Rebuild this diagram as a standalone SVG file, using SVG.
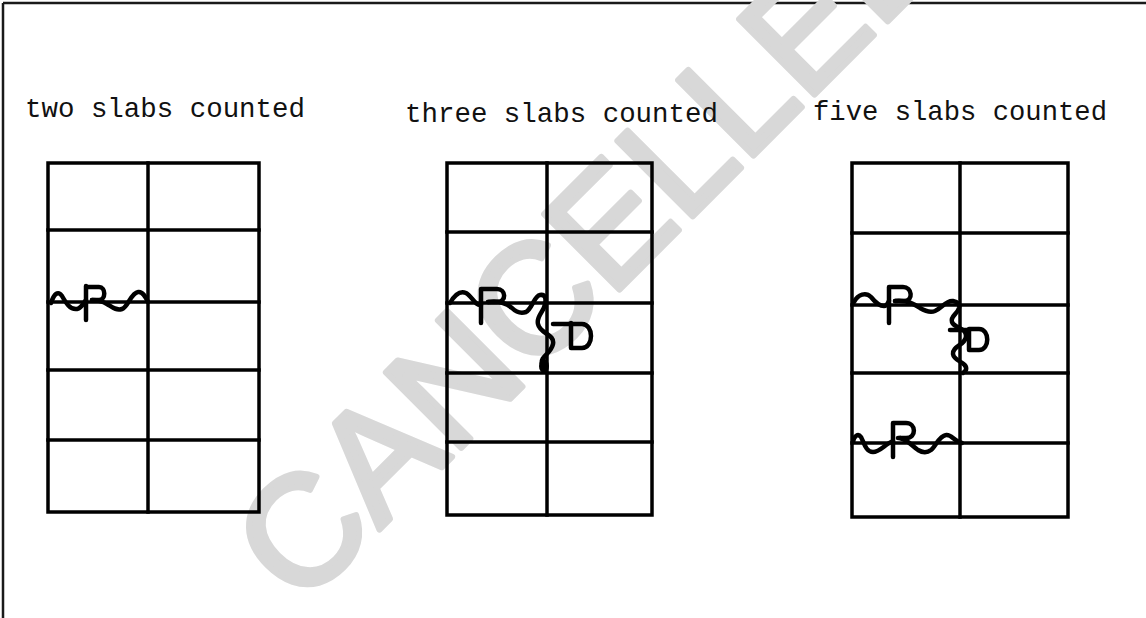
<svg xmlns="http://www.w3.org/2000/svg" width="1146" height="618" viewBox="0 0 1146 618">
<style>
.bg{fill:#ffffff}
.frame{stroke:#1a1a1a;stroke-width:2.5;fill:none}
.wm{font-family:"Liberation Sans",Arial,sans-serif;font-size:155px;fill:#d8d8d8;stroke:#d8d8d8;stroke-width:6;stroke-linejoin:round}
.lbl{font-family:"Liberation Mono","Courier New",monospace;font-size:27.5px;fill:#111111}
.grid{stroke:#000000;stroke-width:3.5;fill:none;stroke-linecap:square}
.wave{stroke:#000000;stroke-width:4.5;fill:none;stroke-linecap:round;stroke-linejoin:round}
</style>
<rect class="bg" x="0" y="0" width="1146" height="618"/>
<g id="frame">
<line class="frame" x1="3" y1="3" x2="1146" y2="3"/>
<line class="frame" x1="3" y1="3" x2="3" y2="618"/>
</g>
<g id="watermark">
<text class="wm" transform="translate(300,609) rotate(-45)" x="0" y="0">CANCELLED</text>
</g>
<g id="labels">
<text class="lbl" x="25" y="117" textLength="280" lengthAdjust="spacingAndGlyphs">two slabs counted</text>
<text class="lbl" x="405" y="122" textLength="313" lengthAdjust="spacingAndGlyphs">three slabs counted</text>
<text class="lbl" x="813" y="120" textLength="294" lengthAdjust="spacingAndGlyphs">five slabs counted</text>
</g>
<g id="grid1">
<rect class="grid" x="48" y="163" width="211" height="349"/>
<line class="grid" x1="148" y1="163" x2="148" y2="512"/>
<line class="grid" x1="48" y1="230" x2="259" y2="230"/>
<line class="grid" x1="48" y1="302" x2="259" y2="302"/>
<line class="grid" x1="48" y1="370" x2="259" y2="370"/>
<line class="grid" x1="48" y1="440" x2="259" y2="440"/>
</g>
<g id="grid2">
<rect class="grid" x="447" y="163" width="205" height="352"/>
<line class="grid" x1="547" y1="163" x2="547" y2="515"/>
<line class="grid" x1="447" y1="232" x2="652" y2="232"/>
<line class="grid" x1="447" y1="303" x2="652" y2="303"/>
<line class="grid" x1="447" y1="373" x2="652" y2="373"/>
<line class="grid" x1="447" y1="442" x2="652" y2="442"/>
</g>
<g id="grid3">
<rect class="grid" x="852" y="163" width="216" height="354"/>
<line class="grid" x1="960" y1="163" x2="960" y2="517"/>
<line class="grid" x1="852" y1="233" x2="1068" y2="233"/>
<line class="grid" x1="852" y1="305" x2="1068" y2="305"/>
<line class="grid" x1="852" y1="373" x2="1068" y2="373"/>
<line class="grid" x1="852" y1="443" x2="1068" y2="443"/>
</g>
<g id="connectors">
<g id="wave1">
<path class="wave" d="M51,303 C54,294 58,290 62,296 C66,303 70,310 77,309 C82,308 84,302 86,300"/>
<path class="wave" d="M86,286 L86,320 M86,287 L99,287 C106,287 106,300 99,300 L92,300"/>
<path class="wave" d="M92,300 C99,300 102,301 107,304 C112,307 116,311 122,309 C128,307 131,293 138,292 C143,291 146,298 148,302"/>
</g>
<g id="wave2">
<path class="wave" d="M450,303 C454,296 459,290 466,293 C472,296 475,306 481,305"/>
<path class="wave" d="M481,289 L481,323 M481,289 L497,289 C506,289 507,302 497,302 L488,302"/>
<path class="wave" d="M488,302 C500,300 507,304 512,308 C516,312 520,314 526,312 C532,309 534,296 540,295 C546,294 546,300 545,304 C544,312 536,316 538,324 C540,334 555,334 553,344 C551,354 540,356 542,364"/>
<ellipse cx="544" cy="366" rx="5" ry="7" fill="#000000"/>
<path class="wave" d="M553,324 L571,324 M571,323 L571,348 M571,324 L582,324 C594,324 594,348 582,348 L571,348"/>
</g>
<g id="wave3">
<path class="wave" d="M854,302 C858,294 866,292 871,297 C875,302 879,306 884,306 C887,306 888,303 889,301"/>
<path class="wave" d="M889,287 L889,323 M889,287 L903,287 C912,287 914,301 904,301 L895,301"/>
<path class="wave" d="M895,301 C908,300 914,304 920,308 C925,311 930,313 935,311 C942,308 946,300 953,301 C958,302 960,304 959,308 C957,315 950,316 952,322 C955,329 966,327 966,336 C966,345 952,346 953,354 C954,362 968,362 966,370 L963,373"/>
<path class="wave" d="M950,330 L969,330 M969,329 L969,350 M969,329 L979,329 C990,329 990,350 979,350 L969,350"/>
</g>
<g id="wave4">
<path class="wave" d="M853,442 C854,436 858,433 861,437 C864,443 866,452 873,452 C880,452 885,444 893,441"/>
<path class="wave" d="M893,423 L893,457 M893,423 L906,423 C916,423 917,438 906,438 L898,438"/>
<path class="wave" d="M900,438 C908,440 912,446 918,450 C923,453 927,453 931,450 C936,446 939,436 946,435 C952,434 953,441 962,443"/>
</g>
</g>
</svg>
